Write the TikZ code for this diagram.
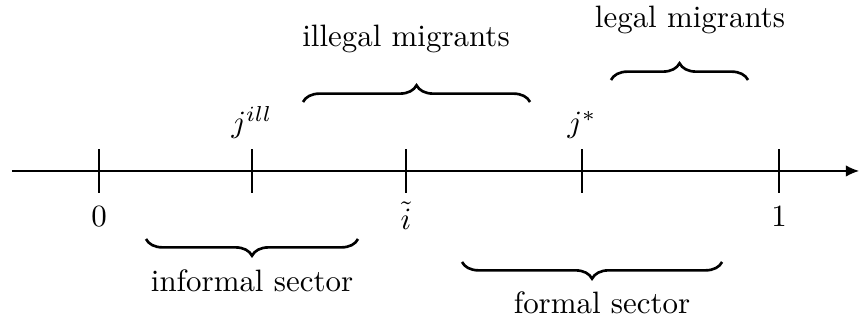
\documentclass[tikz,border=0pt]{standalone}
\usetikzlibrary{decorations.pathreplacing,arrows.meta}

\begin{document}
\begin{tikzpicture}[line cap=butt,every node/.style={inner sep=1pt},
    tick/.style={line width=0.4pt},
    curly/.style={line width=0.85pt,decorate,decoration={brace,amplitude=0.19cm}}]
  \useasboundingbox (-1.125,-1.739) rectangle (8.636,1.943);
  % Achse
  \draw[line width=0.4pt,-{Latex[length=1.5mm,width=1.3mm]}] (-0.99,0) -- (8.636,0);
  % Markierungen
  \draw[tick] (0,-0.25) -- (0,0.25);
  \draw[tick] (1.739,-0.25) -- (1.739,0.25);
  \draw[tick] (3.489,-0.25) -- (3.489,0.25);
  \draw[tick] (5.489,-0.25) -- (5.489,0.25);
  \draw[tick] (7.727,-0.25) -- (7.727,0.25);
  \node[anchor=base] (zero) at (0,-0.636) {$0$};
  \node[anchor=base,inner sep=0pt] (itilde) at (3.489,-0.67) {$\tilde{i}$};
  \node[anchor=base] (one) at (7.727,-0.636) {$1$};
  \node[anchor=base] (jill) at (1.739,0.44) {$j^{ill}$};
  \node[anchor=base] (jstar) at (5.489,0.44) {$j^{*}$};
  % Klammern unten
  \draw[curly] (2.943,-0.773) -- (0.534,-0.773);
  \draw[curly] (7.080,-1.034) -- (4.125,-1.034);
  \node[anchor=base] (informal) at (1.739,-1.375) {informal sector};
  \node[anchor=base] (formal) at (5.716,-1.614) {formal sector};
  % Klammern oben
  \draw[curly] (2.318,0.784) -- (4.898,0.784);
  \draw[curly] (5.818,1.034) -- (7.375,1.034);
  \node[anchor=base] (illegal) at (3.489,1.414) {illegal migrants};
  \node[anchor=base] (legal) at (6.716,1.636) {legal migrants};
\end{tikzpicture}
\end{document}
